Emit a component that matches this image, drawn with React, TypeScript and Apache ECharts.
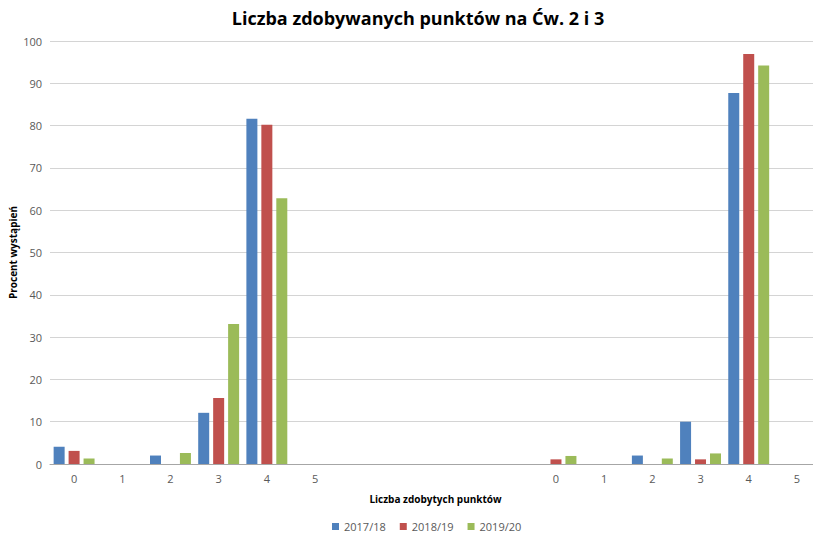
import React, { useEffect, useRef } from "react";
import * as echarts from "echarts";

const categories = ["0", "1", "2", "3", "4", "5", "", "", "", "", "0", "1", "2", "3", "4", "5"];
const seriesNames = ["2017/18", "2018/19", "2019/20"];
const values2017 = [4.1, null, 2.0, 12.1, 81.6, null, null, null, null, null, null, null, 2.0, 10.0, 87.7, null];
const values2018 = [3.1, null, null, 15.6, 80.2, null, null, null, null, null, 1.1, null, null, 1.1, 96.9, null];
const values2019 = [1.3, null, 2.6, 33.1, 62.8, null, null, null, null, null, 1.9, null, 1.3, 2.5, 94.2, null];
const colors = ["#4f81bd", "#c0504d", "#9bbb59"];

const FONT = "'Open Sans', 'Noto Sans', sans-serif";

export default function App() {
  const ref = useRef<HTMLDivElement>(null);
  useEffect(() => {
    if (!ref.current) return;
    const chart = echarts.init(ref.current, null, { renderer: "svg" });
    const data = [values2017, values2018, values2019];
    chart.setOption({
      animation: false,
      backgroundColor: "#ffffff",
      title: {
        text: "Liczba zdobywanych punktów na Ćw. 2 i 3",
        left: 413,
        textAlign: "center",
        top: 4,
        textStyle: { fontFamily: FONT, fontSize: 18, fontWeight: "bold", color: "#000000" },
      },
      legend: {
        data: seriesNames,
        bottom: -2,
        left: 327,
        icon: "rect",
        itemWidth: 7,
        itemHeight: 7,
        itemGap: 14,
        textStyle: { fontFamily: FONT, fontSize: 11, color: "#595959" },
      },
      grid: {
        left: 50,
        right: -8,
        top: 41,
        bottom: 71,
        containLabel: false,
        outerBoundsMode: "none",
      },
      xAxis: {
        type: "category",
        data: categories,
        name: "Liczba zdobytych punktów",
        nameLocation: "middle",
        nameGap: 30,
        nameMoveOverlap: false,
        nameTextStyle: { fontFamily: FONT, fontSize: 10, fontWeight: "bold", color: "#000000" },
        axisLine: { lineStyle: { color: "#a6a6a6" } },
        axisTick: { show: false },
        axisLabel: { interval: 0, fontFamily: FONT, fontSize: 11, color: "#595959", margin: 9 },
      },
      yAxis: {
        type: "value",
        min: 0,
        max: 100,
        interval: 10,
        name: "Procent wystąpień",
        nameLocation: "middle",
        nameGap: 32,
        nameMoveOverlap: false,
        nameTextStyle: { fontFamily: FONT, fontSize: 10, fontWeight: "bold", color: "#000000" },
        axisLine: { show: false },
        axisTick: { show: false },
        axisLabel: { fontFamily: FONT, fontSize: 11, color: "#595959", margin: 8 },
        splitLine: { lineStyle: { color: "#d4d4d4", width: 1 } },
      },
      series: seriesNames.map((name, i) => ({
        name,
        type: "bar",
        data: data[i],
        barWidth: 11,
        barGap: "36%",
        itemStyle: { color: colors[i] },
      })),
    });
    return () => chart.dispose();
  }, []);
  return (
    <div
      ref={ref}
      style={{ position: "fixed", left: 0, top: 0, width: 813, height: 535, background: "#fff" }}
    />
  );
}
